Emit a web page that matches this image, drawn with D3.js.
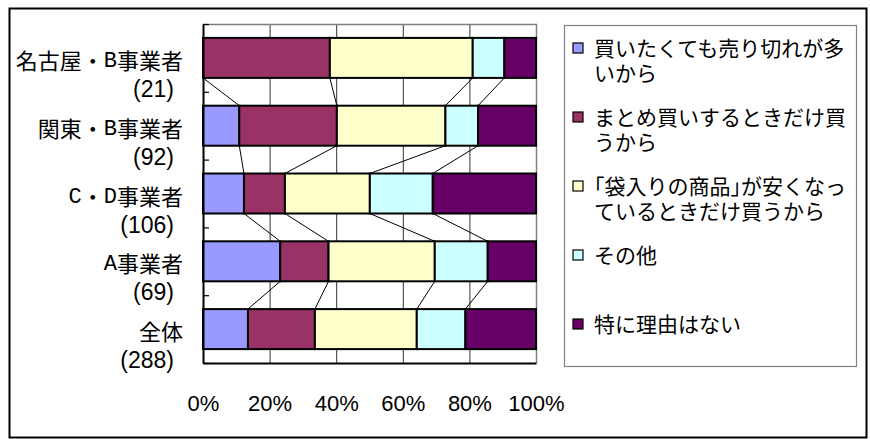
<!DOCTYPE html>
<html>
<head>
<meta charset="utf-8">
<script src="https://cdn.jsdelivr.net/npm/d3@7"></script>
<style>
  html, body { margin: 0; padding: 0; background: #fff; }
  svg { display: block; }
</style>
</head>
<body>
<svg id="chart" width="870" height="439"></svg>
<script>
// Respondent groups (top to bottom) and their sample sizes
const categories = ["名古屋・B事業者", "関東・B事業者", "C・D事業者", "A事業者", "全体"];
const sampleSizes = ["(21)", "(92)", "(106)", "(69)", "(288)"];

// Share of answers per reason, in percent, one value per group
const soldOut   = [0.0, 10.9, 12.3, 23.2, 13.5];
const bulkOnly  = [38.1, 29.3, 12.3, 14.5, 20.1];
const bagSale   = [42.9, 32.6, 25.5, 31.9, 30.6];
const other     = [9.5, 9.8, 18.9, 15.9, 14.6];
const noReason  = [9.5, 17.4, 31.0, 14.5, 21.2];

// Legend labels, already broken into display lines
const seriesLabels = [
  ["買いたくても売り切れが多", "いから"],
  ["まとめ買いするときだけ買", "うから"],
  ["｢袋入りの商品｣が安くなっ", "ているときだけ買うから"],
  ["その他"],
  ["特に理由はない"]
];
const seriesColors = ["#9999FF", "#993366", "#FFFFCC", "#CCFFFF", "#660066"];

const xTicks = [0, 20, 40, 60, 80, 100];

const keys = ["soldOut", "bulkOnly", "bagSale", "other", "noReason"];
const seriesData = [soldOut, bulkOnly, bagSale, other, noReason];
const rows = categories.map((c, i) => {
  const r = { cat: c };
  keys.forEach((k, j) => r[k] = seriesData[j][i]);
  return r;
});

const svg = d3.select("#chart");
const latinFont = "'Liberation Sans', 'Noto Sans CJK JP', sans-serif";
const narrowLatin = "'Liberation Mono', monospace";

// Outer chart frame
svg.append("rect")
  .attr("x", 9.5).attr("y", 8.5).attr("width", 857).attr("height", 429)
  .attr("fill", "#fff").attr("stroke", "#000").attr("stroke-width", 2);

const plot = { left: 203, right: 536, top: 24, bottom: 363 };

const x = d3.scaleLinear().domain([0, 100]).range([plot.left, plot.right]);
const y = d3.scaleBand().domain(categories).range([plot.top, plot.bottom])
  .paddingInner(0.41).paddingOuter(0.205);

// Vertical gridlines
svg.append("g")
  .selectAll("line")
  .data(xTicks.filter(t => t > 0 && t < 100))
  .join("line")
  .attr("x1", d => x(d) + 0.5).attr("x2", d => x(d) + 0.5)
  .attr("y1", plot.top).attr("y2", plot.bottom)
  .attr("stroke", "#333").attr("stroke-width", 1);

// Plot area top / right edges
svg.append("path")
  .attr("d", `M${plot.left},${plot.top + 0.5}H${plot.right + 0.5}V${plot.bottom}`)
  .attr("fill", "none").attr("stroke", "#808080").attr("stroke-width", 1.5);

const stack = d3.stack().keys(keys)(rows);

// Stacked bars
svg.append("g")
  .selectAll("g")
  .data(stack)
  .join("g")
  .attr("fill", (d, i) => seriesColors[i])
  .selectAll("rect")
  .data(d => d)
  .join("rect")
  .filter(d => d[1] - d[0] > 0)
  .attr("x", d => x(d[0]))
  .attr("y", d => y(d.data.cat))
  .attr("width", d => x(d[1]) - x(d[0]))
  .attr("height", y.bandwidth())
  .attr("stroke", "#000").attr("stroke-width", 2);

// Series lines joining segment boundaries of neighbouring bars
const seriesLines = [];
for (let k = 0; k < keys.length - 1; k++) {
  for (let i = 0; i < categories.length - 1; i++) {
    const a = stack[k][i], b = stack[k][i + 1];
    seriesLines.push({
      x1: x(a[1]), y1: y(categories[i]) + y.bandwidth(),
      x2: x(b[1]), y2: y(categories[i + 1])
    });
  }
}
svg.append("g")
  .selectAll("line")
  .data(seriesLines)
  .join("line")
  .attr("x1", d => d.x1).attr("y1", d => d.y1)
  .attr("x2", d => d.x2).attr("y2", d => d.y2)
  .attr("stroke", "#000").attr("stroke-width", 1);

// Category axis: boundary ticks pointing into the plot
const yIdx = d3.scaleLinear().domain([0, categories.length]).range([plot.top, plot.bottom]);
const yAxis = svg.append("g")
  .attr("transform", `translate(${plot.left},0)`)
  .call(d3.axisRight(yIdx).ticks(categories.length).tickSize(6).tickSizeOuter(0).tickFormat(""));
yAxis.select(".domain").attr("stroke", "#000").attr("stroke-width", 2);
yAxis.selectAll(".tick line").attr("stroke", "#000").attr("stroke-width", 1.2);

// Category labels: name and sample size on two lines.
// Latin letters inside the names are set in a narrow half-width face.
const labels = svg.append("g");
categories.forEach((c, i) => {
  const cy = y(c) + y.bandwidth() / 2;
  const t = labels.append("text")
    .attr("x", 183).attr("y", cy + 3)
    .attr("text-anchor", "end").attr("dominant-baseline", "central")
    .attr("font-family", latinFont).attr("font-size", 22)
    .attr("fill", "#000");
  c.split(/([A-Z]+)/).filter(s => s.length).forEach(part => {
    const span = t.append("tspan").text(part);
    if (/^[A-Z]+$/.test(part)) span.attr("font-family", narrowLatin);
  });
  labels.append("text")
    .attr("x", 174).attr("y", cy + 31)
    .attr("text-anchor", "end").attr("dominant-baseline", "central")
    .attr("font-family", latinFont).attr("font-size", 23)
    .attr("fill", "#000").text(sampleSizes[i]);
});

// Value axis along the bottom
const xAxis = svg.append("g")
  .attr("transform", `translate(0,${plot.bottom})`)
  .call(d3.axisBottom(x).tickValues(xTicks).tickSize(0).tickFormat(d => d + "%"));
xAxis.select(".domain").attr("stroke", "#000").attr("stroke-width", 2);
xAxis.selectAll(".tick text")
  .attr("y", 40).attr("dy", null)
  .attr("dominant-baseline", "central")
  .attr("font-family", latinFont).attr("font-size", 22).attr("fill", "#000");

// Legend
const legend = svg.append("g");
legend.append("rect")
  .attr("x", 564.5).attr("y", 25.5).attr("width", 292).attr("height", 341)
  .attr("fill", "#fff").attr("stroke", "#808080").attr("stroke-width", 1.2);

const legendItem = legend.selectAll("g.item")
  .data(seriesLabels)
  .join("g")
  .attr("class", "item")
  .attr("transform", (d, i) => `translate(0,${48 + i * 69})`);

legendItem.append("rect")
  .attr("x", 573).attr("y", -5).attr("width", 10).attr("height", 10)
  .attr("fill", (d, i) => seriesColors[i])
  .attr("stroke", "#000").attr("stroke-width", 1.2);

legendItem.append("text")
  .attr("font-family", latinFont).attr("font-size", 21).attr("fill", "#000")
  .selectAll("tspan")
  .data(d => d)
  .join("tspan")
  .attr("x", 594)
  .attr("y", (d, j) => j * 25)
  .attr("dominant-baseline", "central")
  .text(d => d);
</script>
</body>
</html>
